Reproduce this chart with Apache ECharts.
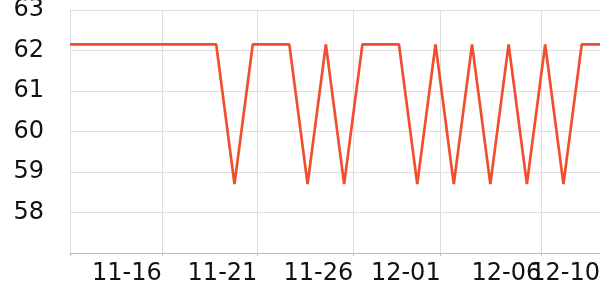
<!DOCTYPE html>
<html><head><meta charset="utf-8">
<script src="https://cdn.jsdelivr.net/npm/echarts@6/dist/echarts.min.js"></script>
<style>html,body{margin:0;padding:0;background:#fff}#c{width:600px;height:300px}</style>
</head><body><div id="c"></div>
<script>
const dates = ['2024-11-11','2024-11-12','2024-11-13','2024-11-14','2024-11-15','2024-11-16','2024-11-17','2024-11-18','2024-11-19','2024-11-20',
  '2024-11-21','2024-11-22','2024-11-23','2024-11-24','2024-11-25','2024-11-26','2024-11-27','2024-11-28','2024-11-29','2024-11-30',
  '2024-12-01','2024-12-02','2024-12-03','2024-12-04','2024-12-05','2024-12-06','2024-12-07','2024-12-08','2024-12-09','2024-12-10'];
const values = [62.15,62.15,62.15,62.15,62.15,62.15,62.15,62.15,62.15,58.7,
  62.15,62.15,62.15,58.7,62.15,58.7,62.15,62.15,62.15,58.7,
  62.15,58.7,62.15,58.7,62.15,58.7,62.15,58.7,62.15,62.15];
// x tick positions (time stamps)
const xTickTimes = ['2024-11-16 00:30','2024-11-21 06:00','2024-11-26 12:00','2024-12-01 06:45','2024-12-06 18:45'];
const yTicks = [57, 58, 59, 60, 61, 62, 63];

const toTs = s => new Date(s.replace(' ', 'T')).getTime();
const xMin = toTs(dates[0]);
const xMax = toTs(dates[dates.length - 1]);
const labelTs = xTickTimes.map(toTs);
const tickTs = [xMin].concat(labelTs);
const pad = n => (n < 10 ? '0' : '') + n;
const fmt = v => { const d = new Date(v); return pad(d.getMonth() + 1) + '-' + pad(d.getDate()); };
const labelStyle = {fontFamily: 'DejaVu Sans', fontSize: 24, color: '#111', align: 'right', margin: 9, hideOverlap: false, showMinLabel: true, showMaxLabel: true, formatter: fmt};

const chart = echarts.init(document.getElementById('c'), null, {renderer: 'canvas'});
chart.setOption({
  animation: false,
  grid: {left: 70, right: 0, top: 10, bottom: 47, containLabel: false, outerBoundsMode: 'none'},
  xAxis: [{
    type: 'value',
    min: xMin, max: xMax,
    axisLine: {lineStyle: {color: '#bbb'}},
    axisTick: {show: true, length: 3, lineStyle: {color: '#bbb'}, customValues: tickTs},
    splitLine: {show: true, lineStyle: {color: '#ddd'}},
    axisLabel: Object.assign({customValues: labelTs}, labelStyle)
  }, {
    type: 'value', position: 'bottom',
    min: xMin, max: xMax,
    axisLine: {show: false}, axisTick: {show: false}, splitLine: {show: false},
    axisLabel: Object.assign({customValues: [xMax]}, labelStyle)
  }],
  yAxis: {
    type: 'value', min: yTicks[0], max: yTicks[yTicks.length - 1], interval: 1,
    axisLine: {show: false}, axisTick: {show: false},
    splitLine: {lineStyle: {color: '#ddd'}},
    axisLabel: {fontFamily: 'DejaVu Sans', fontSize: 24, color: '#111', margin: 26, showMinLabel: false}
  },
  series: [{
    type: 'line', symbol: 'none', xAxisIndex: 0,
    data: dates.map((d, i) => [toTs(d), values[i]]),
    lineStyle: {color: '#f04e2f', width: 2.7}
  }]
});
</script></body></html>
